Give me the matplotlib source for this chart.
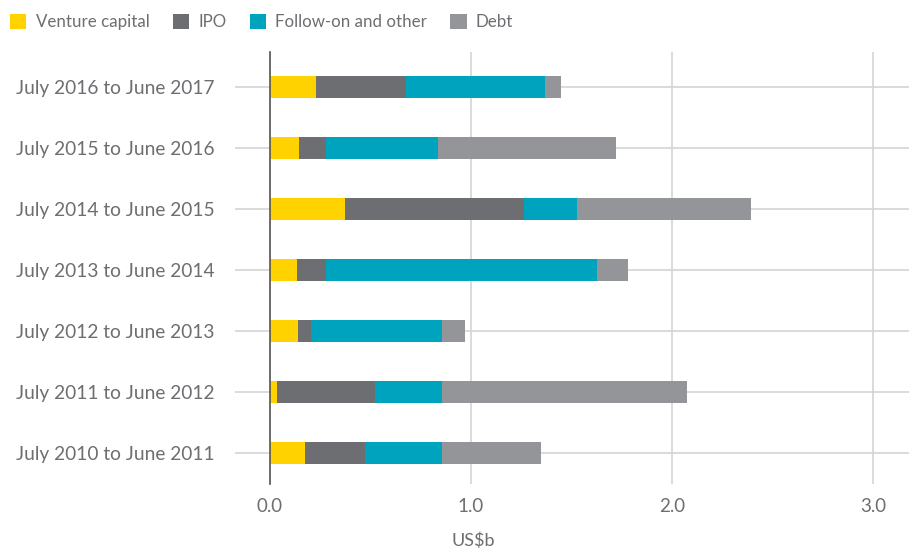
import matplotlib
matplotlib.use("Agg")
import matplotlib.pyplot as plt
import numpy as np

periods = ["July 2010 to June 2011", "July 2011 to June 2012", "July 2012 to June 2013",
           "July 2013 to June 2014", "July 2014 to June 2015", "July 2015 to June 2016",
           "July 2016 to June 2017"]
venture = [0.176, 0.036, 0.141, 0.136, 0.375, 0.146, 0.231]
ipo = [0.298, 0.487, 0.065, 0.145, 0.888, 0.135, 0.444]
follow_on = [0.380, 0.331, 0.652, 1.346, 0.264, 0.553, 0.693]
debt = [0.494, 1.222, 0.110, 0.155, 0.868, 0.888, 0.080]
x_ticks = [0.0, 1.0, 2.0, 3.0]

series = [("Venture capital", venture, "#FFD200"),
          ("IPO", ipo, "#6D6E71"),
          ("Follow-on and other", follow_on, "#00A3BE"),
          ("Debt", debt, "#939598")]

plt.rcParams['font.family'] = ['Lato', 'DejaVu Sans']
txt = "#6D6E71"
grid = "#D4D4D4"

fig = plt.figure(figsize=(9.09, 5.50), dpi=100)
ax = fig.add_axes([270/909, 1 - 484/550, 1 - 270/909, (484 - 52)/550])

y = np.arange(len(periods))
left = np.zeros(len(periods))
handles = []
for name, vals, col in series:
    b = ax.barh(y, vals, left=left, height=0.37, color=col, label=name, zorder=3)
    handles.append(b)
    left += np.array(vals)

ax.set_xlim(0, 3.18)
ax.set_ylim(-0.505, 6.57)
ax.set_yticks(y)
ax.set_yticklabels(periods, fontsize=13.8, color=txt)
ax.set_xticks(x_ticks)
ax.set_xticklabels(["%.1f" % v for v in x_ticks], fontsize=13.5, color=txt)
ax.tick_params(axis='y', length=25, color=grid, width=1.2, pad=15)
ax.tick_params(axis='x', length=0, pad=10)
ax.grid(True, color=grid, linewidth=1.2, zorder=0)
for s in ["top", "right", "bottom"]:
    ax.spines[s].set_visible(False)
ax.spines["left"].set_color("#555555")
ax.spines["left"].set_linewidth(1.2)
ax.spines["left"].set_zorder(4)

ax.set_xlabel("US$b", fontsize=13, color=txt)
ax.xaxis.set_label_coords((473 - 270) / (909 - 270), -0.112)

fig.legend(handles=handles, loc="upper left", bbox_to_anchor=(0.002, 0.99), ncol=4,
           frameon=False, fontsize=12.2, labelcolor=txt, handlelength=0.95, handleheight=0.95,
           handletextpad=0.55, columnspacing=1.38, borderaxespad=0.2, borderpad=0.3)

fig.savefig("out.png", dpi=100)
